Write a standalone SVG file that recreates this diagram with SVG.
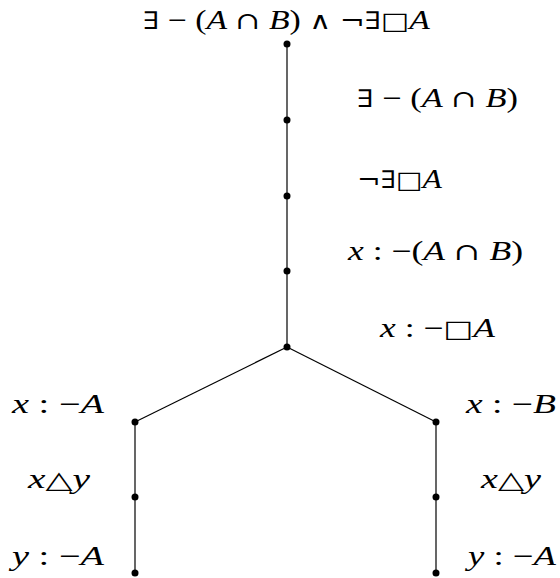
<svg xmlns="http://www.w3.org/2000/svg" width="560" height="578" viewBox="0 0 560 578">
<style>
text{font-family:'Liberation Serif','Times New Roman','DejaVu Serif','Noto Serif',serif;font-size:27px;fill:#000;text-anchor:start}
.v{font-style:italic}
.s{font-family:'DejaVu Serif','Liberation Serif',serif;font-size:24px}
line{stroke:#000;stroke-width:1.2}
circle{fill:#000}
</style>
<rect width="560" height="578" fill="#fff"/>
<g id="connectors">
<line x1="287" y1="44" x2="287" y2="347"/>
<line x1="287" y1="347" x2="135" y2="422"/>
<line x1="287" y1="347" x2="436" y2="422"/>
<line x1="135" y1="422" x2="135" y2="573"/>
<line x1="436" y1="422" x2="436" y2="573"/>
</g>
<g id="n1"><circle cx="287" cy="44" r="3.5"/><text x="143" y="29" textLength="287" lengthAdjust="spacingAndGlyphs" font-family="Liberation Serif, serif"><tspan class="s">∃</tspan> − (<tspan class="v">A</tspan> <tspan class="s">∩</tspan> <tspan class="v">B</tspan>) <tspan class="s">∧</tspan> <tspan class="s">¬∃□</tspan><tspan class="v">A</tspan></text></g>
<g id="n2"><circle cx="287" cy="120" r="3.5"/><text x="357" y="107" textLength="161" lengthAdjust="spacingAndGlyphs"><tspan class="s">∃</tspan> − (<tspan class="v">A</tspan> <tspan class="s">∩</tspan> <tspan class="v">B</tspan>)</text></g>
<g id="n3"><circle cx="287" cy="196" r="3.5"/><text x="357" y="188" textLength="85" lengthAdjust="spacingAndGlyphs"><tspan class="s">¬∃□</tspan><tspan class="v">A</tspan></text></g>
<g id="n4"><circle cx="287" cy="271" r="3.5"/><text x="348" y="260" textLength="175" lengthAdjust="spacingAndGlyphs"><tspan class="v">x</tspan> : −(<tspan class="v">A</tspan> <tspan class="s">∩</tspan> <tspan class="v">B</tspan>)</text></g>
<g id="n5"><circle cx="287" cy="347" r="3.5"/><text x="380" y="337" textLength="115" lengthAdjust="spacingAndGlyphs"><tspan class="v">x</tspan> : −<tspan class="s">□</tspan><tspan class="v">A</tspan></text></g>
<g id="l1"><circle cx="135" cy="422" r="3.5"/><text x="12" y="413" textLength="92" lengthAdjust="spacingAndGlyphs"><tspan class="v">x</tspan> : −<tspan class="v">A</tspan></text></g>
<g id="l2"><circle cx="135" cy="497" r="3.5"/><text x="28" y="488" textLength="62" lengthAdjust="spacingAndGlyphs"><tspan class="v">x</tspan><tspan class="s">△</tspan><tspan class="v">y</tspan></text></g>
<g id="l3"><circle cx="135" cy="573" r="3.5"/><text x="12" y="565" textLength="92" lengthAdjust="spacingAndGlyphs"><tspan class="v">y</tspan> : −<tspan class="v">A</tspan></text></g>
<g id="r1"><circle cx="436" cy="422" r="3.5"/><text x="466" y="413" textLength="90" lengthAdjust="spacingAndGlyphs"><tspan class="v">x</tspan> : −<tspan class="v">B</tspan></text></g>
<g id="r2"><circle cx="436" cy="497" r="3.5"/><text x="481" y="488" textLength="60" lengthAdjust="spacingAndGlyphs"><tspan class="v">x</tspan><tspan class="s">△</tspan><tspan class="v">y</tspan></text></g>
<g id="r3"><circle cx="436" cy="573" r="3.5"/><text x="468" y="565" textLength="88" lengthAdjust="spacingAndGlyphs"><tspan class="v">y</tspan> : −<tspan class="v">A</tspan></text></g>
</svg>
